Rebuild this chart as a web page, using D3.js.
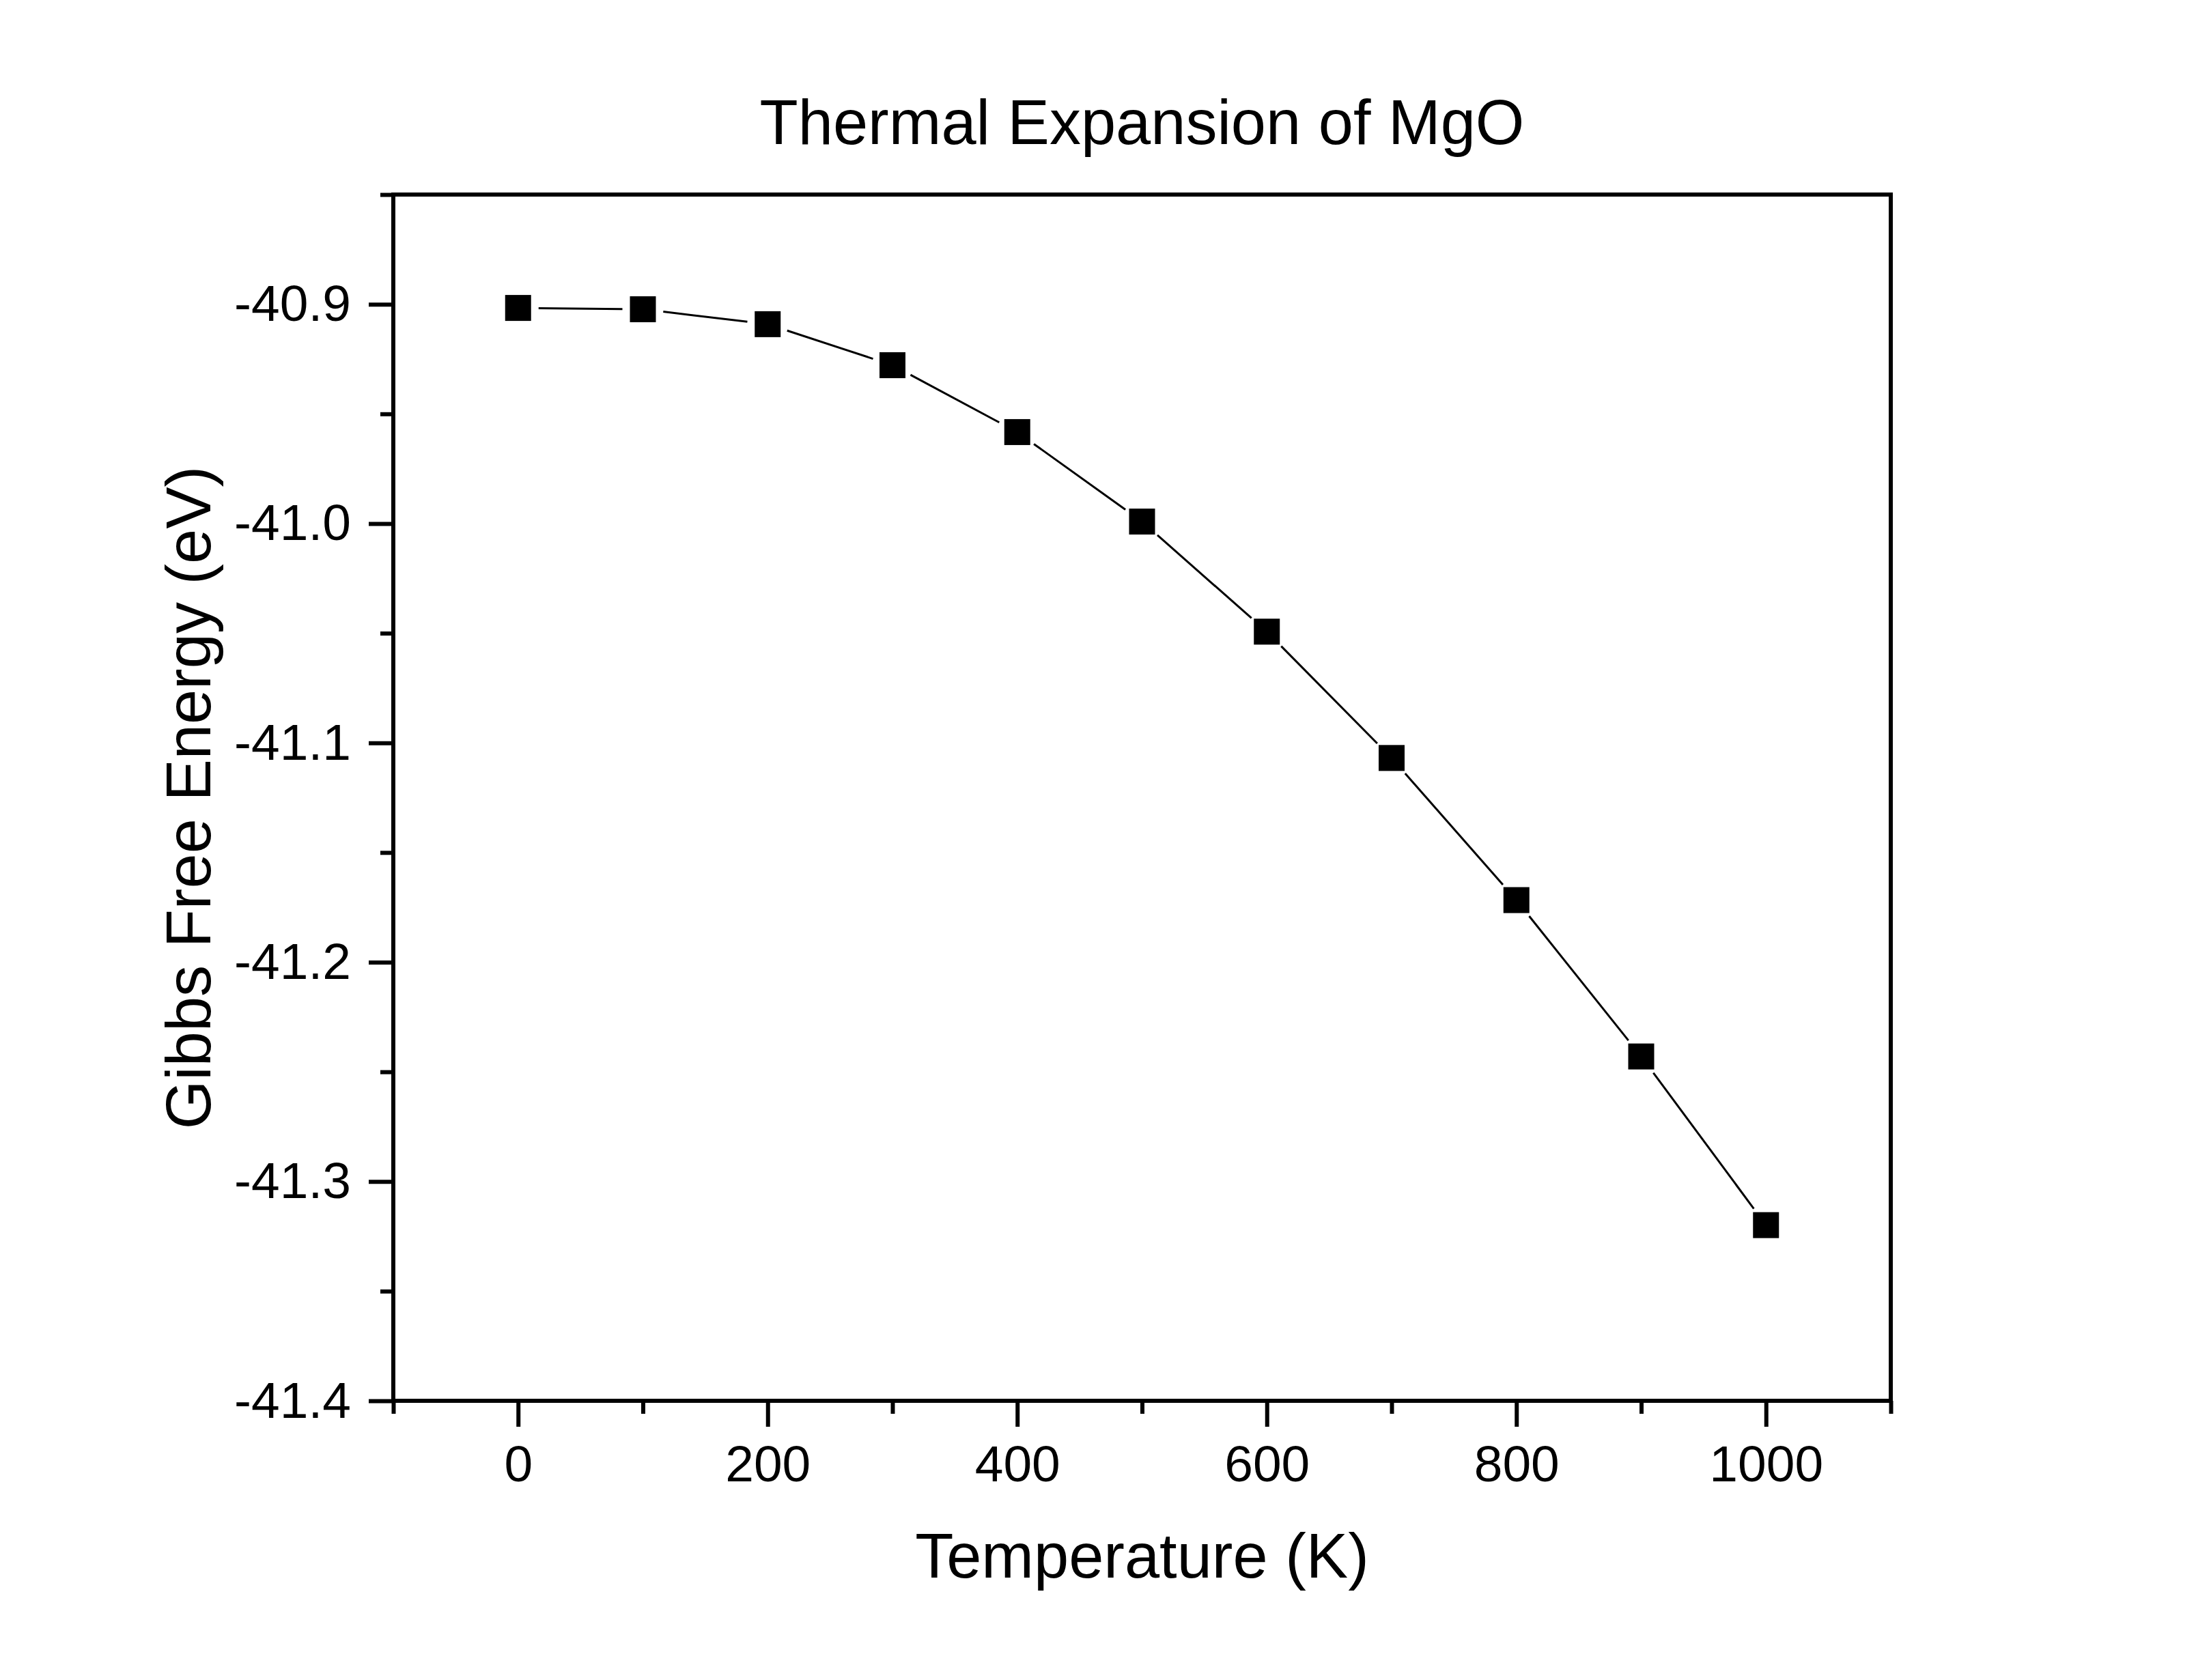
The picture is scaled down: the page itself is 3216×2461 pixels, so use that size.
<!DOCTYPE html>
<html>
<head>
<meta charset="utf-8">
<script src="https://cdn.jsdelivr.net/npm/d3@7/dist/d3.min.js"></script>
<style>
  html, body { margin: 0; padding: 0; background: #fff; }
  svg { display: block; }
  text { font-family: "Liberation Sans", Arial, sans-serif; fill: #000; }
</style>
</head>
<body>
<script>
// ---- data ----
const temperatures = [0, 100, 200, 300, 400, 500, 600, 700, 800, 900, 1000];
const gibbsEnergy = [-40.9017, -40.9023, -40.9091, -40.9278, -40.9583, -40.9991, -41.0493, -41.1069, -41.1717, -41.2430, -41.3199];
const xMajorTicks = [0, 200, 400, 600, 800, 1000];
const xMinorTicks = [-100, 100, 300, 500, 700, 900, 1100];
const yMajorTicks = [-41.4, -41.3, -41.2, -41.1, -41.0, -40.9];
const yMinorTicks = [-41.35, -41.25, -41.15, -41.05, -40.95, -40.85];
const titleText = "Thermal Expansion of MgO";
const xLabelText = "Temperature (K)";
const yLabelText = "Gibbs Free Energy (eV)";

// ---- layout ----
const W = 3216, H = 2461;
const L = 576, R = 2769, T = 285, B = 2052;

const svg = d3.select("body").append("svg")
  .attr("width", W).attr("height", H)
  .attr("viewBox", `0 0 ${W} ${H}`);
svg.append("rect").attr("width", W).attr("height", H).attr("fill", "#fff");

const x = d3.scaleLinear().domain([-100, 1100]).range([L, R]);
const y = d3.scaleLinear().domain([-41.4, -40.85]).range([B, T]);

function styleAxis(g, fs) {
  g.select(".domain").remove();
  g.selectAll(".tick line").attr("stroke", "#000").attr("stroke-width", 6);
  g.selectAll(".tick text")
    .style("font-family", '"Liberation Sans", Arial, sans-serif')
    .style("font-size", fs + "px").attr("fill", "#000");
}

// x axis
svg.append("g").attr("transform", `translate(0,${B})`)
  .call(d3.axisBottom(x).tickValues(xMinorTicks).tickSize(19).tickFormat(""))
  .call(g => styleAxis(g, 75));
svg.append("g").attr("transform", `translate(0,${B})`)
  .call(d3.axisBottom(x).tickValues(xMajorTicks).tickSize(38).tickPadding(27).tickFormat(d => String(d)))
  .call(g => styleAxis(g, 75));

// y axis
svg.append("g").attr("transform", `translate(${L},0)`)
  .call(d3.axisLeft(y).tickValues(yMinorTicks).tickSize(19).tickFormat(""))
  .call(g => styleAxis(g, 75));
svg.append("g").attr("transform", `translate(${L},0)`)
  .call(d3.axisLeft(y).tickValues(yMajorTicks).tickSize(36).tickPadding(26).tickFormat(d => d.toFixed(1)))
  .call(g => styleAxis(g, 75));

// frame
svg.append("rect")
  .attr("x", L).attr("y", T).attr("width", R - L).attr("height", B - T)
  .attr("fill", "none").attr("stroke", "#000").attr("stroke-width", 6);

// data
const pts = temperatures.map((t, i) => ({ px: x(t), py: y(gibbsEnergy[i]) }));
const gap = 30;
const segs = d3.pairs(pts).map(([a, b]) => {
  const dx = b.px - a.px, dy = b.py - a.py;
  const len = Math.hypot(dx, dy);
  const ux = dx / len, uy = dy / len;
  return { x1: a.px + ux * gap, y1: a.py + uy * gap, x2: b.px - ux * gap, y2: b.py - uy * gap };
});
svg.append("g").selectAll("line").data(segs).join("line")
  .attr("x1", d => d.x1).attr("y1", d => d.y1)
  .attr("x2", d => d.x2).attr("y2", d => d.y2)
  .attr("stroke", "#000").attr("stroke-width", 3);

const ms = 38;
svg.append("g").selectAll("rect").data(pts).join("rect")
  .attr("x", d => d.px - ms / 2).attr("y", d => d.py - ms / 2)
  .attr("width", ms).attr("height", ms).attr("fill", "#000");

// texts
svg.append("text").attr("x", (L + R) / 2).attr("y", 211)
  .attr("text-anchor", "middle").style("font-size", "92px").text(titleText);
svg.append("text").attr("x", (L + R) / 2).attr("y", 2311)
  .attr("text-anchor", "middle").style("font-size", "92px").text(xLabelText);
svg.append("text")
  .attr("transform", `translate(308,${(T + B) / 2}) rotate(-90)`)
  .attr("text-anchor", "middle").style("font-size", "92px").text(yLabelText);
</script>
</body>
</html>
